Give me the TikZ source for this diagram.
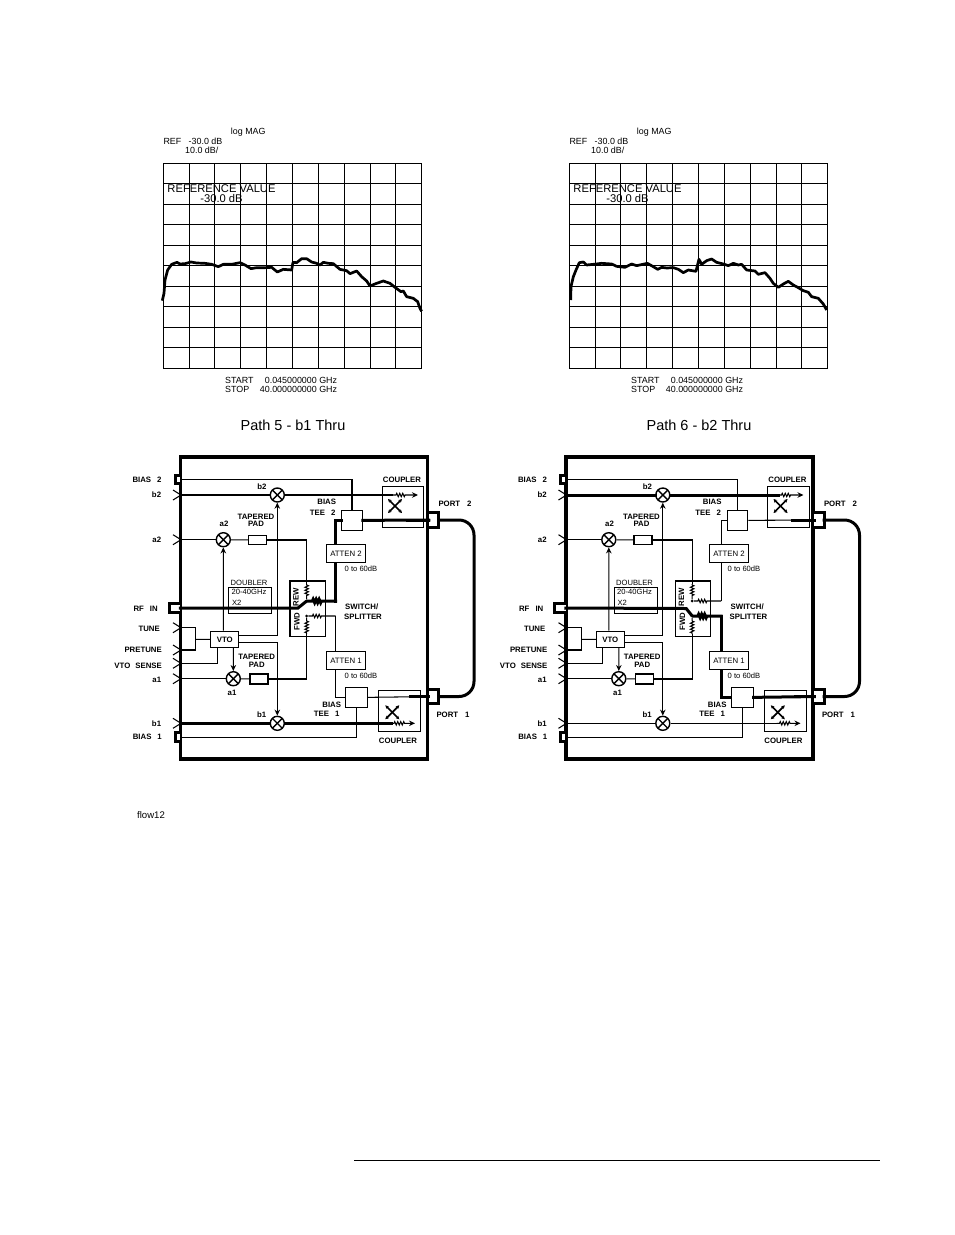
\documentclass[tikz,border=0pt]{standalone}
\usepackage{fontspec}
\setmainfont{Liberation Sans}
\usetikzlibrary{arrows.meta, positioning, decorations.pathmorphing}

\newcommand{\cadfont}{\fontsize{7.8}{9}\selectfont\bfseries}

% Network analyzer screen, #1 = left edge of the curve's point frame, #2 = curve points
\newcommand{\analyzer}[2]{
  \foreach \i in {0,...,10} {
    \draw[gridline] ({163.3+25.84*\i},163.3) -- ({163.3+25.84*\i},368.3);
    \draw[gridline] (163.3,{163.3+20.5*\i}) -- (421.7,{163.3+20.5*\i});
  }
  \begin{scope}[x=0.3333pt, y=-0.3333pt, shift={(#1pt,-230pt)}]
    \draw[trace] plot coordinates {#2};
  \end{scope}
  \node[screentext] (logmag) at (248.3,132) {log MAG};
  \node[screentext, anchor=west] (refline) at (163.3,141) {REF\ \ \ -30.0 dB};
  \node[screentext, anchor=west] (divline) at (185,150) {10.0 dB/};
  \node[reftext] (refvalue) at (221.5,189) {REFERENCE VALUE};
  \node[reftext] (refdb) at (221.5,198) {-30.0 dB};
  \node[screentext, anchor=west] (startlbl) at (225,380.7) {START};
  \node[screentext, anchor=east] (startval) at (337.3,380.7) {0.045000000 GHz};
  \node[screentext, anchor=west] (stoplbl) at (225,389.3) {STOP};
  \node[screentext, anchor=east] (stopval) at (337.3,389.3) {40.000000000 GHz};
}

% Test set block diagram, routes are set by the styles of the surrounding scope
\newcommand{\testset}{
  \node[frame] (chassis) at (304.2,608) {};

  % Ports
  \node[port, minimum width=10.5pt, minimum height=9.5pt] (rfin) at (174.8,608) {};
  \node[port, minimum width=4.5pt, minimum height=8.5pt] (bias2) at (177.7,479.5) {};
  \node[port, minimum width=4.5pt, minimum height=8.5pt] (bias1) at (177.7,737.3) {};
  \node[port, minimum width=9.5pt, minimum height=14.5pt] (port2) at (433.7,520) {};
  \node[port, minimum width=9.5pt, minimum height=13.5pt] (port1) at (433.7,696.5) {};
  \foreach \portname in {rfin,bias2,bias1} {
    \draw[heavy] (\portname.north east) -| (\portname.south west) -- (\portname.south east);
  }
  \foreach \portname in {port2,port1} {
    \draw[heavy] (\portname.north west) -| (\portname.south east) -- (\portname.south west);
  }
  \coordinate (cableside) at (474,608);
  \draw[heavy, rounded corners=15pt] (port2.east) -| (cableside) |- (port1.east);

  % Input chevrons
  \foreach \inname/\yy in {b2in/495, a2in/539.7, tunein/627.7, pretunein/650, sensein/663.3, a1in/678.7, b1in/723.3} {
    \coordinate (\inname) at (181,\yy);
    \draw[signal] ([shift={(-8,-5)}]\inname) -- (\inname) -- ([shift={(-8,5)}]\inname);
  }

  % Mixers and pads
  \node[mixer] (b2mix) at (277.3,495) {};
  \node[mixer] (a2mix) at (223.3,539.7) {};
  \node[mixer] (a1mix) at (233.3,678.7) {};
  \node[mixer] (b1mix) at (277.3,723.3) {};
  \node[block, minimum width=18pt, minimum height=9.5pt] (pad2) at (257.5,540) {};
  \node[block, minimum width=18pt, minimum height=10pt] (pad1) at (259,679) {};

  % VTO and doubler
  \node[block, minimum width=28pt, minimum height=16.5pt, font=\cadfont] (vto) at (224.85,639.35) {VTO};
  \node[box, minimum width=42.7pt, minimum height=26.3pt] (doubler) at (250.3,600.8) {};
  \node[thintext] (doublertitle) at (249,583) {DOUBLER};
  \node[thintext] (doublerband) at (249,592) {20-40GHz};
  \node[thintext] (doublerx) at (236.7,603) {X2};

  % Switch/splitter
  \node[box, minimum width=35.3pt, minimum height=55.7pt] (switchbox) at (307.65,608.85) {};
  \node[cad, rotate=90] (rewlbl) at (296,597) {REW};
  \node[cad, rotate=90] (fwdlbl) at (297,621.7) {FWD};
  \node[contact] (upcontact) at (306.7,601) {};
  \node[contact] (lowcontact) at (306.7,616) {};
  \coordinate (rewtop) at (306.7,584);
  \coordinate (fwdbot) at (306.7,634);
  \coordinate (upbend) at (335.7,601);
  \coordinate (lowbend) at (335.7,616);

  % Local oscillator feeds
  \coordinate (tunebus) at (195.7,639.3);
  \draw[signal] (tunein) -| (tunebus);
  \draw[signal] (pretunein) -| (tunebus);
  \draw[signal] (tunebus) -- (vto);
  \draw[signal] (sensein) -| ([xshift=-7.5pt]vto.south);
  \draw[feed] ([xshift=-1.5pt]vto.north) -- (a2mix);
  \draw[feed] ([xshift=8.5pt]vto.south) -- (a1mix);
  \draw[feed] ([yshift=4.3pt]vto.east) -| (b2mix);
  \draw[feed] ([yshift=-3.3pt]vto.east) -| (b1mix);

  % Reference receivers
  \draw[signal] (a2in) -- (a2mix);
  \draw[signal] (a2mix) -- (pad2);
  \draw[signal] (pad2) -| (rewtop);
  \draw[signal, resistor={1pt}{3pt}] (rewtop) -- (upcontact);
  \draw[signal] (a1in) -- (a1mix);
  \draw[signal] (a1mix) -- (pad1);
  \draw[signal] (pad1) -| (fwdbot);
  \draw[signal, resistor={1pt}{3pt}] (fwdbot) -- (lowcontact);

  % Bias lines
  \node[block, minimum width=20.8pt, minimum height=20.7pt] (tee2) at (352,520.4) {};
  \node[block, minimum width=21.7pt, minimum height=20.4pt] (tee1) at (356.8,697.5) {};
  \draw[signal] (bias2) -| (tee2);
  \draw[signal] (bias1) -| (tee1);

  % Couplers
  \node[box, minimum width=41.4pt, minimum height=41pt] (coupler2) at (403,506.8) {};
  \node[box, minimum width=41.7pt, minimum height=41pt] (coupler1) at (399.8,711.2) {};
  \coordinate (x2) at (395,506);
  \coordinate (x1) at (392.3,712.3);
  \foreach \crossname in {x2,x1} {
    \draw[crossmark] ([shift={(-7,-7)}]\crossname) -- ([shift={(7,7)}]\crossname);
    \draw[crossmark] ([shift={(-7,7)}]\crossname) -- ([shift={(7,-7)}]\crossname);
  }
  \coordinate (c2res) at (393,495);
  \coordinate (c2tip) at (418,495);
  \coordinate (c1res) at (391,723.3);
  \coordinate (c1tip) at (415,723.3);
  \draw[signal, resistor={3pt}{12pt}, -{Stealth[length=6pt, width=5.5pt]}] (c2res) -- (c2tip);
  \draw[signal, resistor={3pt}{10pt}, -{Stealth[length=6pt, width=5.5pt]}] (c1res) -- (c1tip);

  % Test channels
  \draw[b2path] (b2in) -- (b2mix);
  \draw[b2path] (b2mix) -- (c2res);
  \draw[b1path] (b1in) -- (b1mix);
  \draw[b1path] (b1mix) -- (c1res);

  % Switched routes
  \draw[uproute, resistor={4pt}{13pt}] (upcontact) -- (upbend);
  \draw[uproute] (upbend) |- (tee2);
  \draw[uproute] (tee2) -- (port2);
  \draw[lowroute, resistor={4pt}{13pt}] (lowcontact) -- (lowbend);
  \draw[lowroute] (lowbend) |- (tee1);
  \draw[lowroute] (tee1) -- (port1);
  \coordinate (stub2) at (407,520);
  \coordinate (stub1) at (410,696.5);
  \draw[heavy] (stub2) -- (port2.west);
  \draw[heavy] (stub1) -- (port1.west);

  % Attenuators
  \node[block, attenpos, minimum width=38.6pt, minimum height=18pt, font=\fontsize{7.8}{9}\selectfont] (atten2) at (346,553.3) {ATTEN 2};
  \node[block, attenpos, minimum width=38.6pt, minimum height=18pt, font=\fontsize{7.8}{9}\selectfont] (atten1) at (346,660.7) {ATTEN 1};
  \node[thintext] (range2) at ([xshift=15pt, yshift=-6pt]atten2.south) {0 to 60dB};
  \node[thintext] (range1) at ([xshift=15pt, yshift=-6pt]atten1.south) {0 to 60dB};

  % Labels
  \node[cad, anchor=east] (bias2lbl) at (161.7,479.5) {BIAS\hspace{6pt}2};
  \node[cad, anchor=east] (b2lbl) at (161.3,495) {b2};
  \node[cad, anchor=east] (a2lbl) at (161.3,540) {a2};
  \node[cad, anchor=east] (rfinlbl) at (158,608.5) {RF\hspace{6pt}IN};
  \node[cad, anchor=east] (tunelbl) at (160,628.5) {TUNE};
  \node[cad, anchor=east] (pretunelbl) at (162,650) {PRETUNE};
  \node[cad, anchor=east] (senselbl) at (162,665.7) {VTO\hspace{5pt}SENSE};
  \node[cad, anchor=east] (a1lbl) at (161.3,679.5) {a1};
  \node[cad, anchor=east] (b1lbl) at (161.3,723.3) {b1};
  \node[cad, anchor=east] (bias1lbl) at (162,737.3) {BIAS\hspace{6pt}1};
  \node[cad] (b2mixlbl) at (262,487) {b2};
  \node[cad] (a2mixlbl) at (224,524) {a2};
  \node[cad] (a1mixlbl) at (232,693) {a1};
  \node[cad] (b1mixlbl) at (261.7,715) {b1};
  \node[cad] (pad2top) at (256,516.7) {TAPERED};
  \node[cad, below=1.8pt of pad2top] (pad2low) {PAD};
  \node[cad] (pad1top) at (256.7,657.3) {TAPERED};
  \node[cad, below=1.8pt of pad1top] (pad1low) {PAD};
  \node[cad] (tee2top) at (326.7,501.7) {BIAS};
  \node[cad] (tee2low) at (322.7,512.7) {TEE\hspace{6pt}2};
  \node[cad] (tee1top) at (331.7,705) {BIAS};
  \node[cad] (tee1low) at (326.7,714.3) {TEE\hspace{6pt}1};
  \node[cad] (coup2lbl) at (402,480) {COUPLER};
  \node[cad] (coup1lbl) at (398,741) {COUPLER};
  \node[cad] (port2lbl) at (455,504) {PORT\hspace{7pt}2};
  \node[cad] (port1lbl) at (453,715) {PORT\hspace{7pt}1};
  \node[cad] (switchlbl) at (361.7,607) {SWITCH/};
  \node[cad] (splitlbl) at (363,616.7) {SPLITTER};
}

\begin{document}
\begin{tikzpicture}[
  x=1pt, y=-1pt,
  gridline/.style={line width=1pt},
  trace/.style={line width=2.7pt, line join=round},
  screentext/.style={inner sep=0pt, font=\fontsize{8.9}{10}\selectfont},
  reftext/.style={inner sep=0pt, font=\fontsize{11.2}{12}\selectfont},
  title/.style={inner sep=0pt, font=\fontsize{14.5}{16}\selectfont},
  frame/.style={rectangle, draw, line width=3.5pt, minimum width=247pt, minimum height=302pt, inner sep=0pt},
  port/.style={rectangle, fill=white, inner sep=0pt},
  heavy/.style={line width=3pt, line cap=rect},
  signal/.style={line width=1.05pt},
  feed/.style={line width=1.05pt, -{Stealth[length=6pt, width=5.5pt]}},
  block/.style={rectangle, draw, line width=1.05pt, fill=white, inner sep=0pt},
  box/.style={rectangle, draw, line width=1.05pt, inner sep=0pt},
  mixer/.style={circle, draw, line width=1.4pt, fill=white, minimum size=14pt, inner sep=0pt,
    path picture={
      \draw[line width=1.4pt] (path picture bounding box.north west) -- (path picture bounding box.south east);
      \draw[line width=1.4pt] (path picture bounding box.north east) -- (path picture bounding box.south west);
    }},
  contact/.style={circle, fill, minimum size=3pt, inner sep=0pt},
  crossmark/.style={line width=1.7pt, {Stealth[length=3.5pt, width=3.5pt]}-{Stealth[length=3.5pt, width=3.5pt]}},
  resistor/.style 2 args={decorate, decoration={zigzag, segment length=3pt, amplitude=1.7pt, pre length=#1, post length=#2}},
  cad/.style={inner sep=0pt, font=\cadfont},
  thintext/.style={inner sep=0pt, font=\fontsize{7.6}{9}\selectfont},
  attenpos/.style={}
]
  \useasboundingbox (0,0) rectangle (954,1235);

  % Left screen
  \begin{scope}[name prefix=pl-]
    \analyzer{155}{(22,212) (27,190) (30,150) (38,120) (50,103) (66,97) (75,102) (90,101) (108,96) (125,99) (150,100) (170,103) (190,110) (205,103) (230,103) (255,98) (270,105) (288,116) (305,113) (330,113) (350,112) (367,126) (385,118) (410,120) (414,97) (425,98) (440,86) (455,86) (470,96) (485,100) (495,105) (505,97) (520,100) (535,101) (555,118) (575,122) (585,131) (605,123) (620,140) (635,153) (645,168) (665,160) (685,153) (705,160) (720,172) (738,185) (745,183) (755,200) (775,205) (788,215) (795,235) (800,244)}
  \end{scope}

  % Right screen
  \begin{scope}[xshift=406pt, name prefix=pr-]
    \analyzer{154}{(32,210) (33,170) (40,140) (48,120) (58,98) (70,96) (80,105) (100,103) (125,100) (155,102) (170,109) (195,112) (215,102) (230,107) (262,100) (280,110) (293,118) (305,112) (320,114) (340,113) (355,118) (370,128) (385,120) (408,124) (417,88) (425,103) (440,92) (455,87) (470,97) (490,102) (505,107) (520,100) (535,105) (545,103) (560,120) (585,123) (595,133) (615,128) (630,145) (640,160) (655,172) (670,162) (685,154) (700,165) (715,173) (730,182) (745,187) (755,200) (775,205) (790,222) (800,240)}
  \end{scope}

  % Titles
  \node[title] (title5) at (293,425) {Path 5 - b1 Thru};
  \node[title] (title6) at (699,425) {Path 6 - b2 Thru};

  % Path 5
  \begin{scope}[name prefix=l-, b1path/.style={heavy}, b2path/.style={signal},
      uproute/.style={heavy}, lowroute/.style={signal}]
    \testset
    \coordinate (rfpivot) at (298,608);
    \draw[heavy] (rfin.east) -- (rfpivot) -- (upcontact);
  \end{scope}

  % Path 6
  \begin{scope}[xshift=385.5pt, name prefix=r-, b1path/.style={signal}, b2path/.style={heavy},
      uproute/.style={signal}, lowroute/.style={heavy}, attenpos/.style={xshift=-2.5pt}]
    \testset
    \coordinate (rfpivot) at (300.7,608.5);
    \draw[heavy] (rfin.east) -- (rfpivot) -- (lowcontact);
  \end{scope}

  \node[inner sep=0pt, font=\fontsize{9.6}{11}\selectfont] (figname) at (151,815.5) {flow12};
  \coordinate (ruleleft) at (354,1160);
  \coordinate (ruleright) at (880,1160);
  \draw[line width=1pt] (ruleleft) -- (ruleright);
\end{tikzpicture}
\end{document}
